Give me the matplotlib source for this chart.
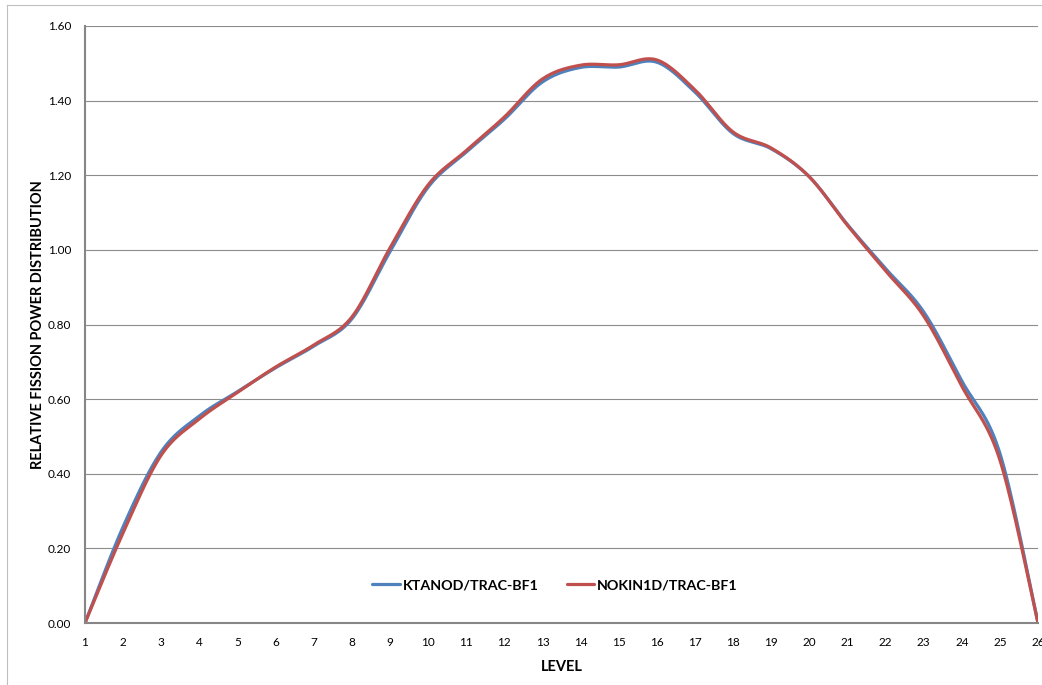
import numpy as np
import matplotlib
matplotlib.use("Agg")
import matplotlib.pyplot as plt
from matplotlib.lines import Line2D

levels = list(range(1, 27))
ktanod = [0.0, 0.258, 0.459, 0.555, 0.620, 0.684, 0.742, 0.815, 0.995, 1.168,
          1.262, 1.350, 1.450, 1.489, 1.490, 1.503, 1.423, 1.312, 1.271, 1.196,
          1.068, 0.950, 0.834, 0.649, 0.455, 0.0]
nokin1d = [0.0, 0.242, 0.450, 0.547, 0.618, 0.686, 0.745, 0.820, 1.005, 1.174,
           1.266, 1.356, 1.458, 1.495, 1.496, 1.509, 1.429, 1.316, 1.273, 1.196,
           1.066, 0.944, 0.823, 0.635, 0.437, 0.0]
series_names = ["KTANOD/TRAC-BF1", "NOKIN1D/TRAC-BF1"]
colors = ["#4F81BD", "#C0504D"]
yticks = [0.0, 0.2, 0.4, 0.6, 0.8, 1.0, 1.2, 1.4, 1.6]


def smooth(xs, ys, n=30):
    """Excel-style smoothed line (Catmull-Rom Bezier) through data points."""
    x = np.asarray(xs, float)
    y = np.asarray(ys, float)
    px = np.concatenate([[x[0]], x, [x[-1]]])
    py = np.concatenate([[y[0]], y, [y[-1]]])
    ox, oy = [], []
    t = np.linspace(0, 1, n, endpoint=False)
    for i in range(1, len(px) - 2):
        p0 = np.array([px[i], py[i]])
        p3 = np.array([px[i + 1], py[i + 1]])
        c1 = p0 + (np.array([px[i + 1], py[i + 1]]) - np.array([px[i - 1], py[i - 1]])) / 6
        c2 = p3 - (np.array([px[i + 2], py[i + 2]]) - np.array([px[i], py[i]])) / 6
        b = ((1 - t) ** 3)[:, None] * p0 + (3 * (1 - t) ** 2 * t)[:, None] * c1 \
            + (3 * (1 - t) * t ** 2)[:, None] * c2 + (t ** 3)[:, None] * p3
        ox.extend(b[:, 0]); oy.extend(b[:, 1])
    ox.append(x[-1]); oy.append(y[-1])
    return np.array(ox), np.array(oy)


plt.rcParams['font.family'] = ['Lato', 'DejaVu Sans']

W, H = 1042, 685
fig = plt.figure(figsize=(W / 100, H / 100), dpi=100)
ax = fig.add_axes([85 / W, 1 - 623 / H, (1038 - 85) / W, (623 - 26) / H])

for vals, name, c in zip([ktanod, nokin1d], series_names, colors):
    sx, sy = smooth(levels, vals)
    ax.plot(sx, sy, color=c, lw=2.3, label=name, solid_capstyle='round')

ax.set_xlim(1, 26)
ax.set_ylim(0, 1.6)
ax.set_xticks(levels)
ax.set_xticklabels([str(v) for v in levels])
ax.set_yticks(yticks)
ax.set_yticklabels([f"{v:.2f}" for v in yticks])
ax.tick_params(length=0, labelsize=8.5, colors='black', pad=10)
ax.tick_params(axis='x', pad=10)
ax.grid(axis='y', color='#8c8c8c', lw=0.8)
ax.set_axisbelow(True)
for s in ['top', 'right']:
    ax.spines[s].set_visible(False)
for s in ['left', 'bottom']:
    ax.spines[s].set_color('#868686')
    ax.spines[s].set_linewidth(1.5)

ax.set_xlabel("LEVEL", fontsize=10.5, fontweight='bold', labelpad=9)
ax.set_ylabel("RELATIVE FISSION POWER DISTRIBUTION", fontsize=10.5, fontweight='bold', labelpad=2)

leg = ax.legend(loc='center', bbox_to_anchor=(555 / W, 1 - 585 / H), bbox_transform=fig.transFigure,
                ncol=2, frameon=False, handlelength=1.9, handletextpad=0.2,
                columnspacing=2.0, prop={'weight': 'bold', 'size': 10.3})

# chart area border
fig.add_artist(Line2D([7 / W, 7 / W], [0, 1 - 5 / H], transform=fig.transFigure, color='#bfbfbf', lw=0.8))
fig.add_artist(Line2D([7 / W, 1], [1 - 5 / H, 1 - 5 / H], transform=fig.transFigure, color='#bfbfbf', lw=0.8))

fig.savefig("out.png", dpi=100)
